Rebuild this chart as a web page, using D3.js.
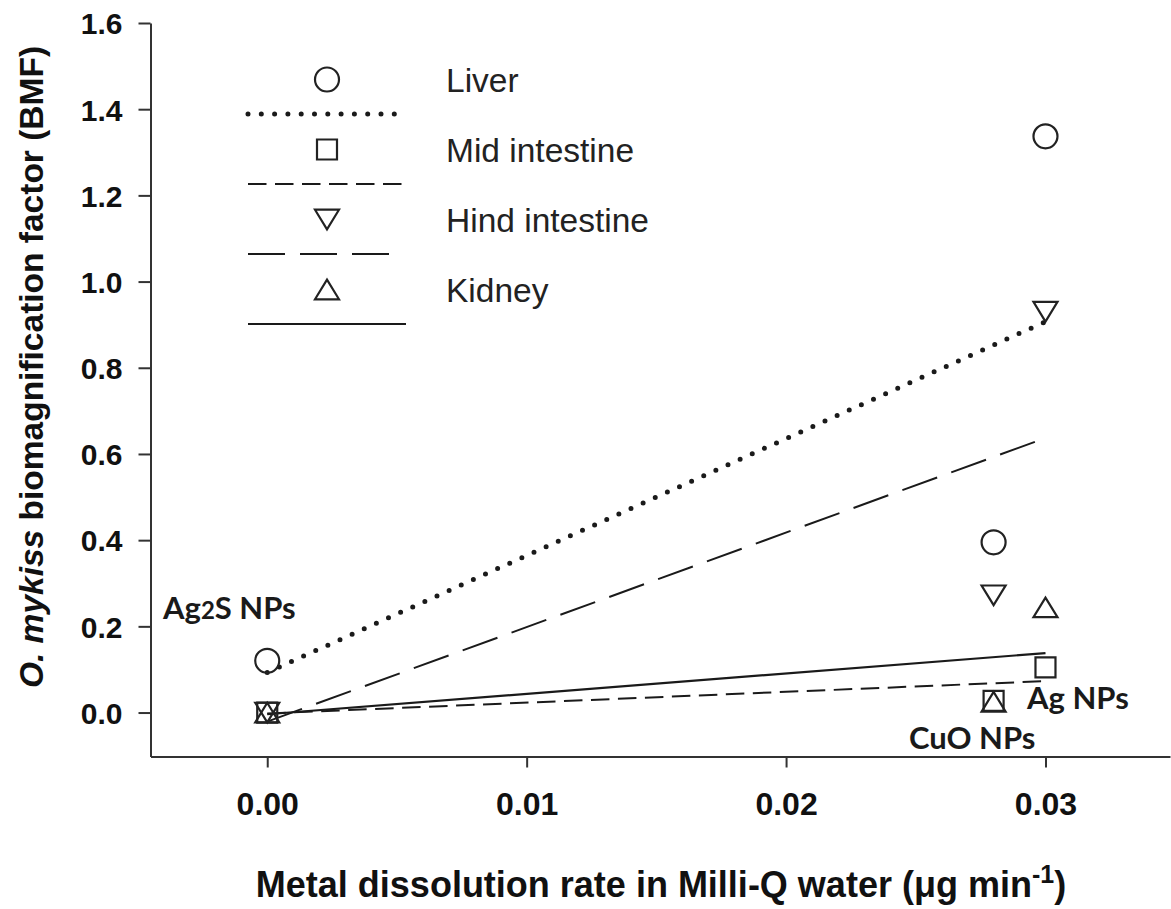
<!DOCTYPE html>
<meta charset="utf-8">
<script src="https://d3js.org/d3.v7.min.js"></script>
<style>
  body { margin: 0; background: #fff; }
  svg { display: block; }
  .axis path, .axis line { stroke: #333; stroke-width: 2px; }
  .axis text { font-family: "Liberation Sans", Arial, sans-serif; font-weight: bold; font-size: 30px; fill: #111; }
  .x.axis text { font-size: 32px; }
  .title { font-family: "Liberation Sans", Arial, sans-serif; font-weight: bold; fill: #111; }
  .legend text { font-family: "Liberation Sans", Arial, sans-serif; font-size: 33.5px; fill: #222; }
  .np-label { font-family: Lato, "Open Sans", sans-serif; font-weight: bold; font-size: 31px; fill: #1a1a1a; }
</style>
<body></body>
<script>

// data
var organs = ["Liver", "Mid intestine", "Hind intestine", "Kidney"];
var nanoparticles = ["Ag2S NPs", "CuO NPs", "Ag NPs"];
var dissolutionRate = [0.0, 0.028, 0.03];

var liverBMF = [0.12, 0.395, 1.337];
var midIntestineBMF = [0.0, 0.027, 0.105];
var hindIntestineBMF = [0.0, 0.272, 0.93];
var kidneyBMF = [0.0, 0.025, 0.244];

// fitted lines, read at x = 0 and x = 0.03
var fitRate = [0.0, 0.03];
var fitStartBMF = [0.093, -0.002, -0.021, -0.004];
var fitEndBMF = [0.907, 0.073, 0.637, 0.138];

var xTicks = [0.0, 0.01, 0.02, 0.03];
var yTicks = [0.0, 0.2, 0.4, 0.6, 0.8, 1.0, 1.2, 1.4, 1.6];

var seriesBMF = [liverBMF, midIntestineBMF, hindIntestineBMF, kidneyBMF];

// styles per organ
var markers = ["circle", "square", "down", "up"];
var dashes = ["0 13.3", "18.5 8.5", "37 15", null];
var lineWidths = [5, 2, 2, 2.2];
var legendLen = [158, 155, 144, 158];

var width = 1171, height = 909;

var svg = d3.select("body").append("svg")
    .attr("width", width)
    .attr("height", height);

var x = d3.scaleLinear()
  .domain([-0.0045, 0.0348])
  .range([150.5, 1170]);

var y = d3.scaleLinear()
  .domain([-0.102, 1.6])
  .range([756.5, 23]);

// axes
var xAxis = d3.axisBottom(x)
  .tickValues(xTicks)
  .tickFormat(d3.format(".2f"))
  .tickSize(11)
  .tickSizeOuter(0)
  .tickPadding(25);

var yAxis = d3.axisLeft(y)
  .tickValues(yTicks)
  .tickFormat(d3.format(".1f"))
  .tickSize(12)
  .tickSizeOuter(0)
  .tickPadding(16);

svg.append("g")
  .attr("class", "x axis")
  .attr("transform", "translate(0," + y.range()[0] + ")")
  .call(xAxis);

svg.append("g")
  .attr("class", "y axis")
  .attr("transform", "translate(" + x.range()[0] + ",0)")
  .call(yAxis);

svg.selectAll(".y.axis text").attr("dy", "0.36em");

// axis titles
var xTitle = svg.append("text")
  .attr("class", "title")
  .attr("font-size", "36px")
  .attr("x", 661)
  .attr("y", 897)
  .attr("text-anchor", "middle");
xTitle.append("tspan").text("Metal dissolution rate in Milli-Q water (\u03bcg min");
xTitle.append("tspan").attr("dy", -14).attr("font-size", "25px").text("-1");
xTitle.append("tspan").attr("dy", 14).text(")");

var yTitle = svg.append("text")
  .attr("class", "title")
  .attr("font-size", "33.5px")
  .attr("transform", "translate(43,367) rotate(-90)")
  .attr("text-anchor", "middle");
yTitle.append("tspan").attr("font-style", "italic").text("O. mykiss");
yTitle.append("tspan").text(" biomagnification factor (BMF)");

// marker shapes
function markerPath(type) {
  var p = d3.path();
  if (type === "circle") {
    p.moveTo(12, 0);
    p.arc(0, 0, 12, 0, 2 * Math.PI);
  } else if (type === "square") {
    p.rect(-10, -10, 20, 20);
  } else if (type === "down") {
    p.moveTo(-12, -9.8); p.lineTo(12, -9.8); p.lineTo(0, 9.8); p.closePath();
  } else {
    p.moveTo(-12, 9.8); p.lineTo(12, 9.8); p.lineTo(0, -9.8); p.closePath();
  }
  return p.toString();
}

function styleLine(sel, i) {
  sel.attr("fill", "none")
    .attr("stroke", "#1a1a1a")
    .attr("stroke-width", lineWidths[i])
    .attr("stroke-linecap", i === 0 ? "round" : "butt")
    .attr("stroke-dasharray", dashes[i]);
}

// fitted lines
var line = d3.line()
  .x(function(d) { return x(d[0]); })
  .y(function(d) { return y(d[1]); });

organs.forEach(function(o, i) {
  svg.append("path")
    .datum([[fitRate[0], fitStartBMF[i]], [fitRate[1], fitEndBMF[i]]])
    .attr("d", line)
    .call(styleLine, i);
});

// points
organs.forEach(function(o, i) {
  svg.selectAll(".pt" + i)
    .data(seriesBMF[i])
    .enter().append("path")
    .attr("class", "pt" + i)
    .attr("d", markerPath(markers[i]))
    .attr("transform", function(d, j) { return "translate(" + x(dissolutionRate[j]) + "," + y(d) + ")"; })
    .attr("fill", "none")
    .attr("stroke", "#222")
    .attr("stroke-width", 2.2);
});

// legend
var legend = svg.append("g").attr("class", "legend");
var legendRow = legend.selectAll("g")
  .data(organs).enter().append("g")
  .attr("transform", function(d, i) { return "translate(0," + (79.5 + i * 70) + ")"; });

legendRow.append("path")
  .attr("d", function(d, i) { return markerPath(markers[i]); })
  .attr("transform", "translate(327,0)")
  .attr("fill", "none")
  .attr("stroke", "#222")
  .attr("stroke-width", 2.2);

legendRow.append("text")
  .attr("x", 446)
  .attr("dy", "0.36em")
  .text(function(d) { return d; });

legendRow.each(function(d, i) {
  d3.select(this).append("line")
    .attr("x1", 248)
    .attr("x2", 248 + legendLen[i])
    .attr("y1", 34.5)
    .attr("y2", 34.5)
    .call(styleLine, i);
});

// nanoparticle labels
var ag2s = svg.append("text").attr("class", "np-label").attr("x", 163).attr("y", 619);
ag2s.append("tspan").text("Ag");
ag2s.append("tspan").attr("font-size", "24px").text("2");
ag2s.append("tspan").text("S NPs");

svg.append("text").attr("class", "np-label").attr("x", 1027).attr("y", 709).text(nanoparticles[2]);
svg.append("text").attr("class", "np-label").attr("x", 909).attr("y", 749).text(nanoparticles[1]);

</script>
